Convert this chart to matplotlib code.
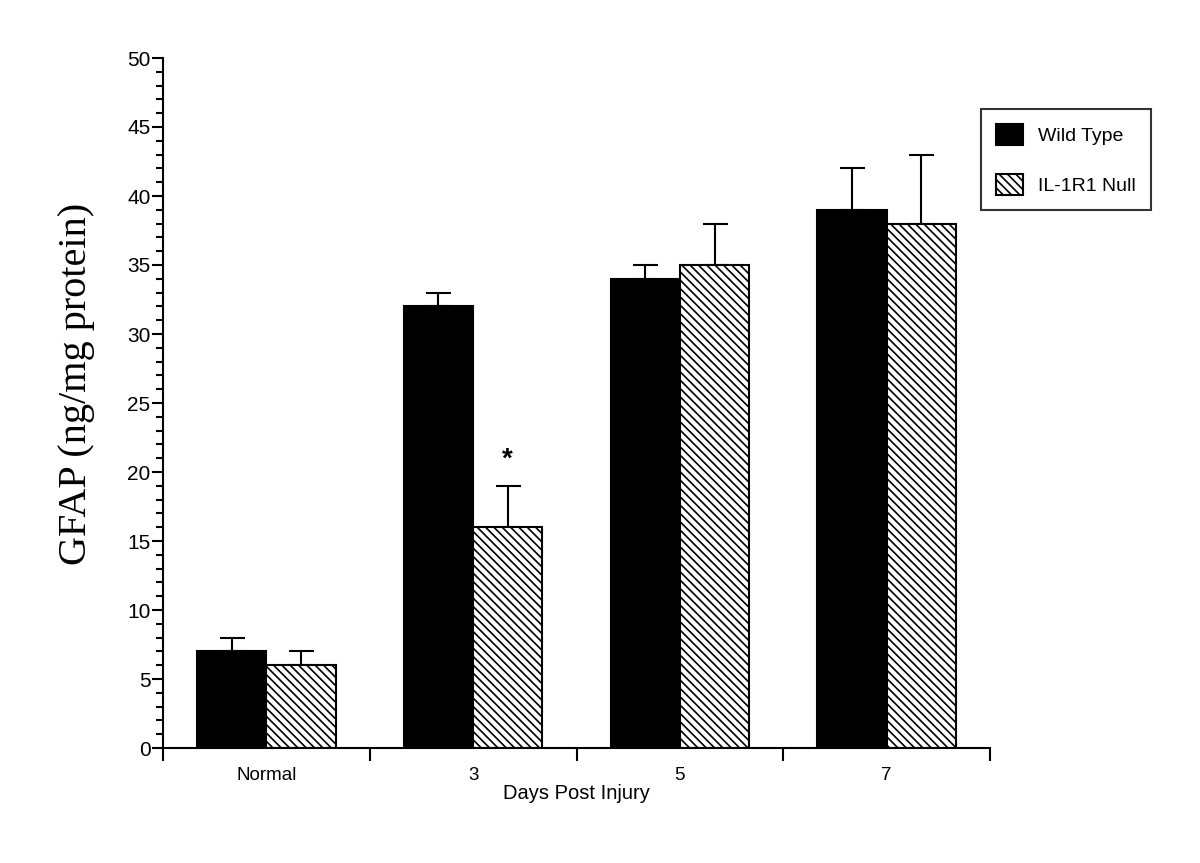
import matplotlib
matplotlib.use("Agg")
import matplotlib.pyplot as plt
import numpy as np

# data
categories = ["Normal", "3", "5", "7"]
wild_type = [7, 32, 34, 39]
wild_type_err = [1, 1, 1, 3]
null = [6, 16, 35, 38]
null_err = [1, 3, 3, 5]
star_value = 20.9  # '*' above day 3 null bar

plt.rcParams['font.family'] = ['Liberation Sans', 'DejaVu Sans']
plt.rcParams['hatch.linewidth'] = 1.2

fig = plt.figure(figsize=(12, 8.63), dpi=100)
ax = fig.add_axes([163/1200, 1-748/863, (990-163)/1200, (748-58)/863])

x = np.arange(len(categories))
w = 0.335
ax.bar(x - w/2, wild_type, w, color="black", edgecolor="black", linewidth=1.5,
       label="Wild Type", zorder=2)
ax.bar(x + w/2, null, w, color="white", edgecolor="black", linewidth=1.5,
       hatch="\\\\\\\\", label="IL-1R1 Null", zorder=2)
ax.errorbar(x - w/2, wild_type, yerr=[np.zeros(4), wild_type_err], fmt="none",
            ecolor="black", elinewidth=1.5, capsize=9, capthick=1.5, zorder=1)
ax.errorbar(x + w/2, null, yerr=[np.zeros(4), null_err], fmt="none",
            ecolor="black", elinewidth=1.5, capsize=9, capthick=1.5, zorder=1)
ax.text(1 + w/2, star_value, "*", ha="center", va="center", fontsize=20,
        fontweight="bold")

ax.set_xlim(-0.5, 3.5)
ax.set_ylim(0, 50)

ax.spines["top"].set_visible(False)
ax.spines["right"].set_visible(False)
ax.spines["left"].set_linewidth(1.5)
ax.spines["bottom"].set_linewidth(1.5)

ax.set_yticks(np.arange(0, 51, 5))
ax.set_yticks(np.arange(0, 51, 1), minor=True)
ax.tick_params(axis="y", which="major", direction="out", length=8, width=1.5,
               labelsize=15, pad=1)
ax.tick_params(axis="y", which="minor", direction="out", length=5, width=1.5)

ax.set_xticks(x)
ax.set_xticklabels(categories)
ax.set_xticks(np.arange(-0.5, 4, 1), minor=True)
ax.tick_params(axis="x", which="major", length=0, labelsize=13.5, pad=14)
ax.tick_params(axis="x", which="minor", direction="out", length=9, width=1.5)

ax.set_xlabel("Days Post Injury", fontsize=14.5, labelpad=0)
ax.set_ylabel("GFAP (ng/mg protein)", fontsize=29, family="Liberation Serif")
ax.yaxis.set_label_coords(-0.082, 0.527)

leg = fig.legend(loc="upper left", bbox_to_anchor=(981/1200, 1-109/863),
                 borderaxespad=0, fontsize=14, frameon=True, fancybox=False,
                 edgecolor="black", handlelength=1.4, handleheight=1.3,
                 handletextpad=0.8, labelspacing=1.5, borderpad=0.75)
leg.get_frame().set_linewidth(1.5)

fig.savefig("out.png", dpi=100)
